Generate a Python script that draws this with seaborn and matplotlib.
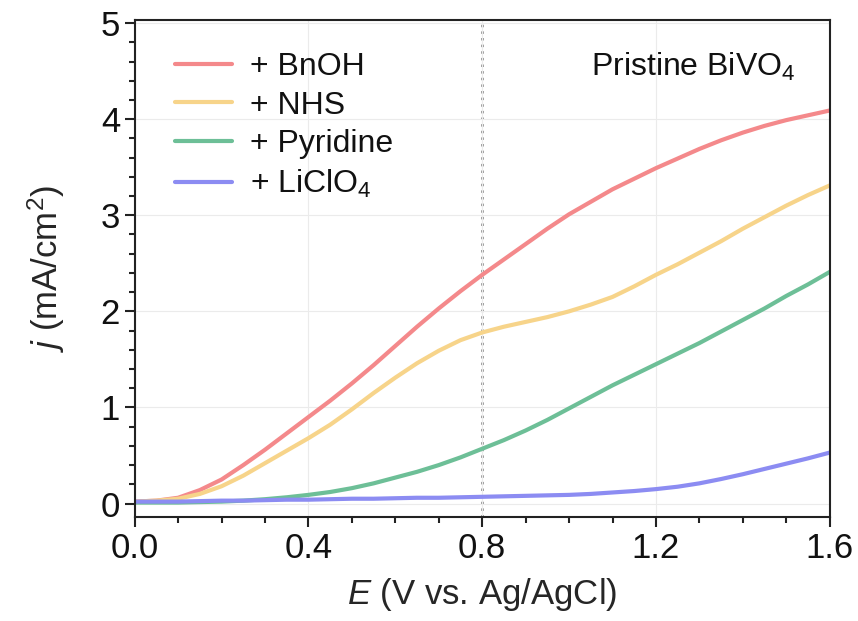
# LSV curves of pristine BiVO4 with different additives
import numpy as np
import pandas as pd
import matplotlib
matplotlib.use('Agg')
import matplotlib.pyplot as plt
from matplotlib.ticker import MultipleLocator, FormatStrFormatter
import seaborn as sns

# potential (V vs. Ag/AgCl) and current density (mA/cm2)
E = [0.00, 0.05, 0.10, 0.15, 0.20, 0.25, 0.30, 0.35, 0.40, 0.45, 0.50,
     0.55, 0.60, 0.65, 0.70, 0.75, 0.80, 0.85, 0.90, 0.95, 1.00, 1.05,
     1.10, 1.15, 1.20, 1.25, 1.30, 1.35, 1.40, 1.45, 1.50, 1.55, 1.60]
j_bnoh = [0.02, 0.03, 0.06, 0.14, 0.25, 0.40, 0.56, 0.73, 0.90, 1.07, 1.25,
          1.44, 1.64, 1.84, 2.03, 2.21, 2.38, 2.54, 2.70, 2.86, 3.01, 3.14,
          3.27, 3.38, 3.49, 3.59, 3.69, 3.78, 3.86, 3.93, 3.99, 4.04, 4.09]
j_nhs = [0.02, 0.03, 0.05, 0.10, 0.18, 0.29, 0.42, 0.55, 0.68, 0.82, 0.98,
         1.15, 1.31, 1.46, 1.59, 1.70, 1.78, 1.84, 1.89, 1.94, 2.00, 2.07,
         2.15, 2.26, 2.38, 2.49, 2.61, 2.73, 2.86, 2.98, 3.10, 3.21, 3.31]
j_pyr = [0.01, 0.01, 0.01, 0.015, 0.02, 0.03, 0.045, 0.065, 0.09, 0.12, 0.16,
         0.21, 0.27, 0.33, 0.40, 0.48, 0.57, 0.66, 0.76, 0.87, 0.99, 1.11,
         1.23, 1.34, 1.45, 1.56, 1.67, 1.79, 1.91, 2.03, 2.16, 2.28, 2.41]
j_licl = [0.02, 0.02, 0.02, 0.025, 0.03, 0.03, 0.035, 0.04, 0.04, 0.045, 0.05,
          0.05, 0.055, 0.06, 0.06, 0.065, 0.07, 0.075, 0.08, 0.085, 0.09, 0.10,
          0.115, 0.13, 0.15, 0.175, 0.21, 0.255, 0.305, 0.36, 0.415, 0.47, 0.53]

labels = ['+ BnOH', '+ NHS', '+ Pyridine', '+ LiClO$_4$']
colors = ['#F4898B', '#F7D48A', '#6DBF97', '#8C8CF2']

df = pd.concat([
    pd.DataFrame({'E': E, 'j': vals, 'sample': lab})
    for vals, lab in zip([j_bnoh, j_nhs, j_pyr, j_licl], labels)
])

sns.set_style('ticks')
plt.rcParams['font.family'] = ['Liberation Sans', 'DejaVu Sans']
plt.rcParams['mathtext.fontset'] = 'custom'
plt.rcParams['mathtext.rm'] = 'Liberation Sans'
plt.rcParams['mathtext.it'] = 'Liberation Sans:italic'
plt.rcParams['text.color'] = '#111111'

fig = plt.figure(figsize=(8.58, 6.21), dpi=100)
ax = fig.add_axes([0.157, 0.1675, 0.81, 0.8])

sns.lineplot(data=df, x='E', y='j', hue='sample', palette=colors,
             linewidth=3, ax=ax)

ax.axvline(0.8, color='#808080', linestyle=':', linewidth=1.8, zorder=0)
ax.grid(True, color='#ebebeb', linewidth=0.8, zorder=0)

ax.set_xlim(0, 1.6)
ax.set_ylim(-0.14, 5.03)
ax.xaxis.set_major_locator(MultipleLocator(0.4))
ax.xaxis.set_minor_locator(MultipleLocator(0.1))
ax.yaxis.set_major_locator(MultipleLocator(1))
ax.yaxis.set_minor_locator(MultipleLocator(0.2))
ax.xaxis.set_major_formatter(FormatStrFormatter('%.1f'))
ax.tick_params(which='major', direction='out', length=7, width=1.5,
               labelsize=25, color='#222222', labelcolor='#111111')
ax.tick_params(which='minor', direction='out', length=4.5, width=1.5, color='#222222')
for s in ax.spines.values():
    s.set_linewidth(1.5)
    s.set_color('#222222')

ax.set_xlabel('$\\mathit{E}$ (V vs. Ag/AgCl)', fontsize=25, labelpad=8)
ax.set_ylabel('$\\mathit{j}$ (mA/cm$^2$)', fontsize=25, labelpad=24)

ax.text(0.95, 0.905, 'Pristine BiVO$_4$', transform=ax.transAxes,
        ha='right', va='center', fontsize=23)

ax.legend(loc='upper left', frameon=False, fontsize=23, handlelength=1.8,
          handletextpad=0.55, bbox_to_anchor=(0.016, 0.994), labelspacing=0.27)

fig.savefig('out.png', dpi=100)
